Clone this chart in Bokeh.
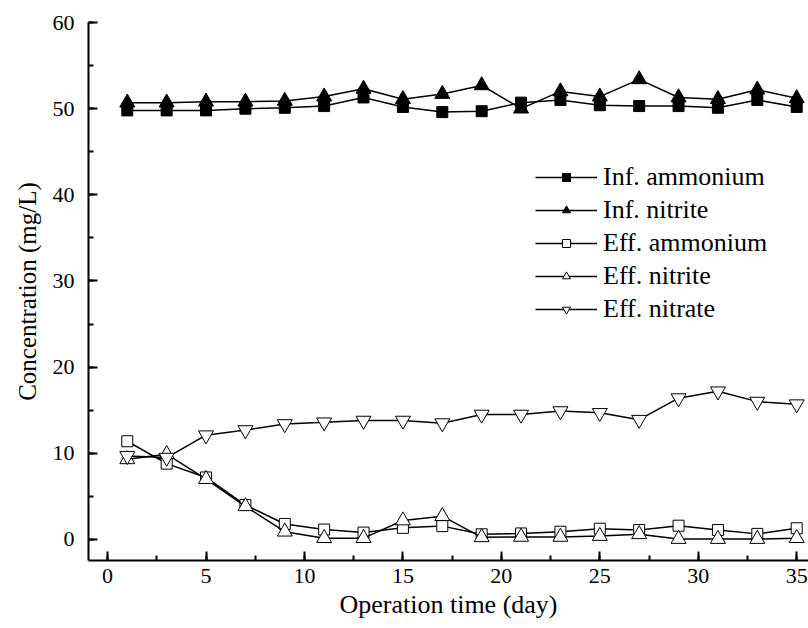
from bokeh.plotting import figure
from bokeh.models import Range1d, SingleIntervalTicker, Legend, LegendItem, ColumnDataSource
from bokeh.embed import file_html
from bokeh.resources import INLINE

days = [1, 3, 5, 7, 9, 11, 13, 15, 17, 19, 21, 23, 25, 27, 29, 31, 33, 35]
inf_ammonium = [49.8, 49.8, 49.8, 50.0, 50.1, 50.3, 51.3, 50.2, 49.6, 49.7, 50.7, 51.0, 50.4, 50.3, 50.3, 50.1, 51.0, 50.2]
inf_nitrite = [50.7, 50.7, 50.8, 50.8, 50.9, 51.4, 52.3, 51.1, 51.7, 52.7, 50.0, 52.0, 51.4, 53.4, 51.3, 51.1, 52.2, 51.2]
eff_ammonium = [11.4, 8.8, 7.2, 4.0, 1.8, 1.15, 0.8, 1.35, 1.55, 0.6, 0.7, 0.9, 1.25, 1.1, 1.6, 1.1, 0.65, 1.3]
eff_nitrite = [9.3, 9.9, 7.0, 3.85, 0.9, 0.15, 0.15, 2.2, 2.7, 0.25, 0.3, 0.3, 0.4, 0.6, 0.05, 0.05, 0.05, 0.15]
eff_nitrate = [9.7, 9.5, 12.1, 12.7, 13.4, 13.6, 13.8, 13.8, 13.5, 14.5, 14.5, 14.9, 14.7, 13.9, 16.4, 17.2, 16.0, 15.7]

labels = ["Inf. ammonium", "Inf. nitrite", "Eff. ammonium", "Eff. nitrite", "Eff. nitrate"]
series = [inf_ammonium, inf_nitrite, eff_ammonium, eff_nitrite, eff_nitrate]
markers = ["square", "triangle", "square", "triangle", "inverted_triangle"]
fills = ["black", "black", "white", "white", "white"]
sizes = [11, 15, 11, 15, 15]

FONT = "Liberation Serif"

p = figure(width=808, height=626, output_backend="svg", toolbar_location=None,
           x_range=Range1d(-0.97, 35.6), y_range=Range1d(-2.44, 60),
           min_border_left=88, min_border_right=0, min_border_top=22, min_border_bottom=66)
p.outline_line_color = None
p.xgrid.visible = False
p.ygrid.visible = False
p.background_fill_color = "white"
p.border_fill_color = "white"

p.xaxis.ticker = SingleIntervalTicker(interval=5, num_minor_ticks=2)
p.yaxis.ticker = SingleIntervalTicker(interval=10, num_minor_ticks=2)
for ax in (p.xaxis[0], p.yaxis[0]):
    ax.axis_line_width = 2
    ax.axis_line_color = "black"
    ax.major_tick_line_width = 2
    ax.minor_tick_line_width = 2
    ax.major_tick_in = 9
    ax.major_tick_out = 0
    ax.minor_tick_in = 5
    ax.minor_tick_out = 0
    ax.major_label_text_font = FONT
    ax.major_label_text_font_size = "22px"
    ax.major_label_text_color = "black"
    ax.axis_label_text_font = FONT
    ax.axis_label_text_font_style = "normal"
    ax.axis_label_text_color = "black"
p.xaxis.axis_label_text_font_size = "26px"
p.yaxis.axis_label_text_font_size = "25px"
p.xaxis.axis_label = "Operation time (day)"
p.yaxis.axis_label = "Concentration (mg/L)"
p.xaxis.major_label_standoff = 8
p.xaxis.axis_label_standoff = 4
p.yaxis.major_label_standoff = 14
p.yaxis.axis_label_standoff = 9

items = []
for lab, vals, mk, fc, sz in zip(labels, series, markers, fills, sizes):
    src = ColumnDataSource(dict(x=days, y=vals))
    lr = p.line("x", "y", source=src, line_color="black", line_width=1.5)
    sr = p.scatter("x", "y", source=src, marker=mk, size=sz, fill_color=fc,
                   line_color="black", line_width=1)
    items.append(LegendItem(label=lab, renderers=[lr, sr]))

legend = Legend(items=items, location=(447, 236))
legend.label_text_font = FONT
legend.label_text_font_size = "26px"
legend.label_text_color = "black"
legend.glyph_width = 62
legend.glyph_height = 20
legend.label_standoff = 6
legend.spacing = 3
legend.padding = 10
legend.border_line_color = None
legend.background_fill_alpha = 0
p.add_layout(legend, "center")

open("out.html", "w").write(file_html(p, INLINE))
